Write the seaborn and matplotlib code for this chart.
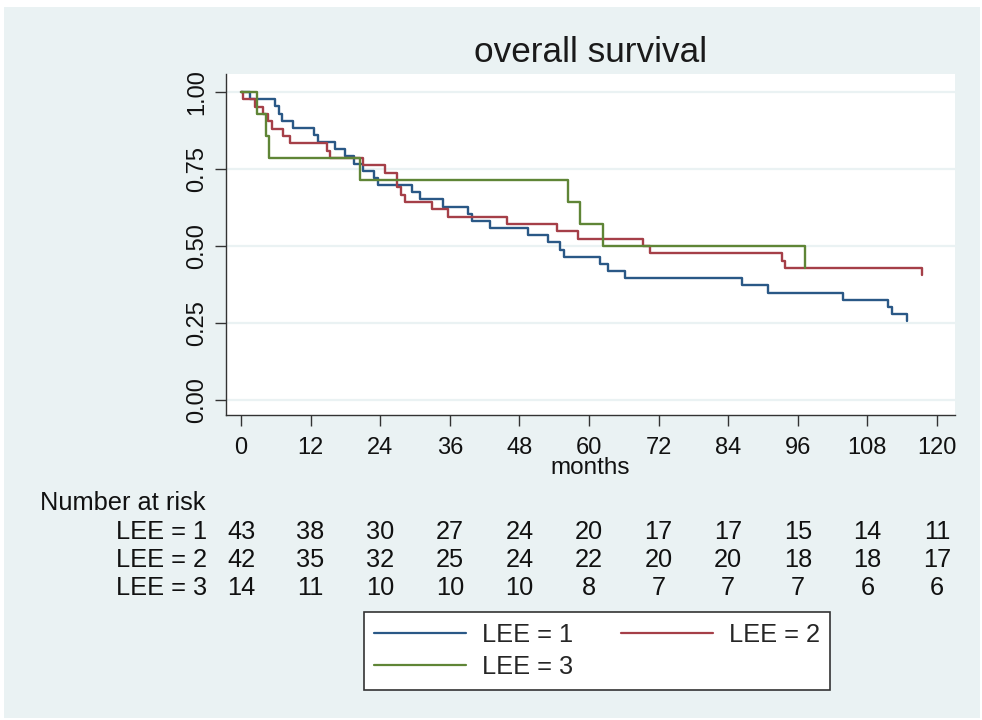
import numpy as np
import pandas as pd
import matplotlib
matplotlib.use("Agg")
import matplotlib.pyplot as plt
import matplotlib.transforms as mtransforms
from matplotlib.patches import Rectangle
from matplotlib.lines import Line2D
import seaborn as sns

# ---------------- data ----------------
groups = ["LEE = 1", "LEE = 2", "LEE = 3"]

months_1 = [0, 1.5, 5.8, 6.5, 7.0, 9.0, 12.5, 13.2, 16.2, 18.0, 19.5, 21.0, 23.0, 23.6,
            29.5, 30.9, 34.9, 39.1, 39.8, 43.0, 49.5, 52.9, 55.0, 55.7, 61.9, 63.3, 66.2,
            86.4, 90.9, 103.8, 111.5, 112.2, 114.8]
surv_1 = [1.0, 0.977, 0.953, 0.930, 0.907, 0.884, 0.860, 0.837, 0.814, 0.791, 0.767, 0.744, 0.721, 0.698,
          0.675, 0.652, 0.628, 0.605, 0.582, 0.558, 0.535, 0.512, 0.488, 0.465, 0.442, 0.419, 0.396,
          0.373, 0.349, 0.326, 0.303, 0.279, 0.256]

months_2 = [0, 0.3, 2.4, 3.8, 4.7, 5.3, 7.3, 8.5, 14.8, 15.4, 21.0, 24.8, 26.9, 27.5, 28.3,
            32.9, 35.7, 45.8, 54.5, 58.1, 69.3, 70.5, 93.3, 93.8, 117.4]
surv_2 = [1.0, 0.976, 0.952, 0.929, 0.905, 0.881, 0.857, 0.833, 0.810, 0.786, 0.762, 0.738, 0.690, 0.667, 0.643,
          0.619, 0.595, 0.571, 0.548, 0.524, 0.500, 0.476, 0.452, 0.428, 0.405]

months_3 = [0, 2.7, 4.3, 4.8, 20.5, 56.4, 58.4, 62.4, 97.2]
surv_3 = [1.0, 0.929, 0.857, 0.786, 0.714, 0.643, 0.571, 0.500, 0.429]

x_ticks = [0, 12, 24, 36, 48, 60, 72, 84, 96, 108, 120]
y_ticks = [0.0, 0.25, 0.50, 0.75, 1.00]
y_tick_labels = ["0.00", "0.25", "0.50", "0.75", "1.00"]

risk_1 = [43, 38, 30, 27, 24, 20, 17, 17, 15, 14, 11]
risk_2 = [42, 35, 32, 25, 24, 22, 20, 20, 18, 18, 17]
risk_3 = [14, 11, 10, 10, 10, 8, 7, 7, 7, 6, 6]

title = "overall survival"
x_label = "months"
colors = ["#2A5886", "#A53F48", "#5F8536"]

# ---------------- build frame ----------------
frames = []
for g, m, s in zip(groups, [months_1, months_2, months_3], [surv_1, surv_2, surv_3]):
    frames.append(pd.DataFrame({"months": m, "survival": s, "group": g}))
df = pd.concat(frames, ignore_index=True)

sns.set_style("white")
plt.rcParams["font.family"] = ["Liberation Sans", "DejaVu Sans"]

W, H = 982, 720
fig = plt.figure(figsize=(W / 100, H / 100), dpi=100, facecolor="white")
fig.patches.append(Rectangle((4 / W, 2 / H), 976 / W, 711 / H, transform=fig.transFigure,
                             facecolor="#EAF2F3", edgecolor="none", zorder=-10))

ax_l, ax_r, ax_t, ax_b = 226, 955, 74, 415
ax = fig.add_axes([ax_l / W, 1 - ax_b / H, (ax_r - ax_l) / W, (ax_b - ax_t) / H])
ax.set_facecolor("white")

sns.lineplot(data=df, x="months", y="survival", hue="group", hue_order=groups,
             palette=colors, estimator=None, sort=False, drawstyle="steps-post",
             lw=1.7, legend=False, ax=ax)

ax.set_xlim(-2.59, 123.1)
ax.set_ylim(-0.0487, 1.0584)
ax.set_xticks(x_ticks)
ax.set_xticklabels([str(t) for t in x_ticks])
ax.set_yticks(y_ticks)
ax.set_yticklabels(y_tick_labels, rotation=90, va="center")
ax.grid(axis="y", color="#EAF2F3", lw=1.6)
ax.grid(axis="x", visible=False)
ax.set_axisbelow(True)
for sp in ["top", "right"]:
    ax.spines[sp].set_visible(False)
for sp in ["left", "bottom"]:
    ax.spines[sp].set_color("#333333")
    ax.spines[sp].set_linewidth(1.0)
ax.tick_params(axis="both", direction="out", length=8, width=1, color="#333333",
               labelsize=17, labelcolor="#111111", left=True, bottom=True)
ax.tick_params(axis="x", pad=8)
ax.tick_params(axis="y", pad=5)
ax.set_xlabel("")
ax.set_ylabel("")

fig.text((ax_l + ax_r) / 2 / W, 1 - 468 / H, x_label, ha="center", va="center", fontsize=17.5, color="#111111")
fig.text((ax_l + ax_r) / 2 / W, 1 - 53 / H, title, ha="center", va="center", fontsize=25.3, color="#1a1a1a")

# ---------------- number at risk ----------------
fs_risk = 18.3
blend = mtransforms.blended_transform_factory(ax.transData, fig.transFigure)
fig.text(40 / W, 1 - 503 / H, "Number at risk", ha="left", va="center", fontsize=fs_risk, color="#111111")
for g, risk, ypx in zip(groups, [risk_1, risk_2, risk_3], [532, 560, 588]):
    fig.text(207 / W, 1 - ypx / H, g, ha="right", va="center", fontsize=fs_risk, color="#111111")
    for t, n in zip(x_ticks, risk):
        ax.text(t, 1 - ypx / H, str(n), transform=blend, ha="center", va="center",
                fontsize=fs_risk, color="#111111", clip_on=False)

# ---------------- legend (row-wise order) ----------------
handles = [Line2D([], [], color=c, lw=1.6) for c in colors]
order = [0, 2, 1]
leg = fig.legend([handles[i] for i in order], [groups[i] for i in order], ncol=2, loc="center",
                 bbox_to_anchor=(597 / W, 1 - 651 / H),
                 frameon=True, fancybox=False, edgecolor="#333333", framealpha=1, facecolor="white",
                 fontsize=fs_risk, handlelength=3.6, handletextpad=0.63, columnspacing=1.9,
                 labelspacing=0.32, borderpad=0.42)
leg.get_frame().set_linewidth(1.2)

fig.savefig("out.png", dpi=100, facecolor="white")
